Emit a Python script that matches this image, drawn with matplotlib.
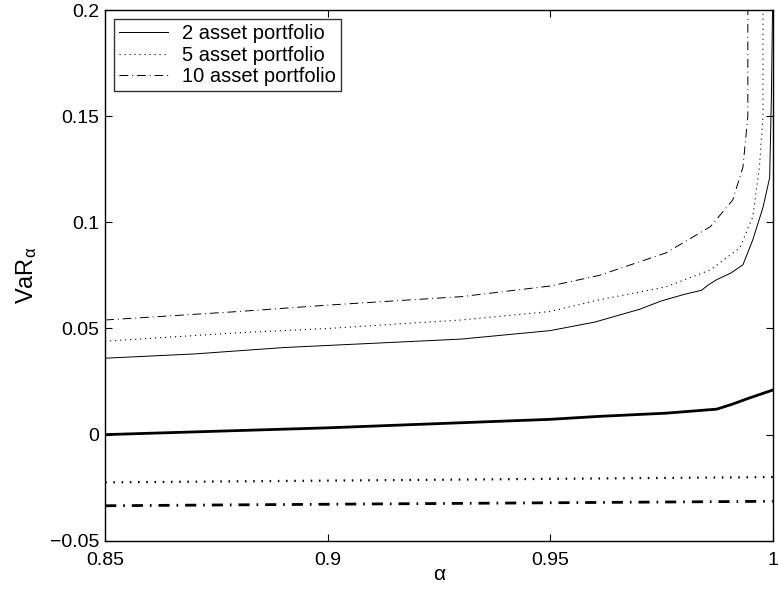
import matplotlib.pyplot as plt

plt.rcParams['font.family'] = ['Liberation Sans', 'DejaVu Sans']
plt.rcParams['mathtext.fontset'] = 'custom'
plt.rcParams['mathtext.rm'] = 'Liberation Sans'
plt.rcParams['mathtext.it'] = 'Liberation Sans'

# VaR curves for the upper (portfolio) set
alpha_2 = [0.85, 0.87, 0.89, 0.91, 0.93, 0.95, 0.96, 0.97, 0.975, 0.98, 0.984,
           0.9855, 0.9874, 0.9905, 0.9933, 0.9955, 0.9978, 0.9993, 0.9997, 1.0]
var_2 = [0.036, 0.038, 0.041, 0.043, 0.045, 0.049, 0.053, 0.059, 0.063, 0.066,
         0.068, 0.0705, 0.073, 0.076, 0.080, 0.0917, 0.107, 0.121, 0.16, 0.21]

alpha_5 = [0.85, 0.88, 0.9, 0.93, 0.95, 0.961, 0.976, 0.986, 0.9926, 0.9955,
           0.997, 0.9978, 0.9978]
var_5 = [0.044, 0.048, 0.050, 0.054, 0.058, 0.0635, 0.0696, 0.0776, 0.088,
         0.1025, 0.126, 0.15, 0.21]

alpha_10 = [0.85, 0.88, 0.9, 0.93, 0.95, 0.961, 0.976, 0.986, 0.991, 0.9933,
            0.9944, 0.9944]
var_10 = [0.054, 0.058, 0.061, 0.065, 0.070, 0.075, 0.0856, 0.098, 0.1105,
          0.126, 0.15, 0.21]

# lower set of curves
alpha_low = [0.85, 0.9, 0.95, 0.961, 0.976, 0.9874, 0.991, 0.9948, 1.0]
low_solid = [0.0, 0.0032, 0.0072, 0.0086, 0.0101, 0.012, 0.0144, 0.0173, 0.021]
alpha_flat = [0.85, 1.0]
low_dot = [-0.0225, -0.020]
low_dashdot = [-0.0335, -0.0314]

fig = plt.figure(figsize=(7.79, 5.91), dpi=100)
ax = fig.add_axes([0.135, 0.085, 0.857, 0.898])

ax.plot(alpha_2, var_2, color='black', linewidth=0.7, label='2 asset portfolio')
ax.plot(alpha_5, var_5, color='black', linewidth=0.8, dashes=(1, 3.5),
        label='5 asset portfolio')
ax.plot(alpha_10, var_10, color='black', linewidth=0.7, dashes=(9, 4, 1, 4),
        label='10 asset portfolio')

ax.plot(alpha_low, low_solid, color='black', linewidth=2.0)
ax.plot(alpha_flat, low_dot, color='black', linewidth=1.6, dashes=(0.7, 3))
ax.plot(alpha_flat, low_dashdot, color='black', linewidth=2.0, dashes=(4, 2.5, 0.6, 2.5))

ax.set_xlim(0.85, 1.0)
ax.set_ylim(-0.05, 0.2)
ax.set_xticks([0.85, 0.9, 0.95, 1.0])
ax.set_xticklabels(['0.85', '0.9', '0.95', '1'])
ax.set_yticks([-0.05, 0, 0.05, 0.1, 0.15, 0.2])
ax.set_yticklabels(['\u22120.05', '0', '0.05', '0.1', '0.15', '0.2'])
ax.tick_params(direction='in', top=True, right=True, length=5, width=0.8,
               labelsize=14)
ax.tick_params(axis='x', pad=8)
ax.tick_params(axis='y', pad=4)
for s in ax.spines.values():
    s.set_linewidth(1.0)

ax.set_xlabel('\u03b1', fontsize=15, labelpad=-3)
ax.set_ylabel('VaR$_{\\alpha}$', fontsize=17, labelpad=8)

leg = ax.legend(loc='upper left', fontsize=14.5, frameon=True, fancybox=False,
                edgecolor='black', handlelength=2.4, handletextpad=0.7,
                borderaxespad=0.45, labelspacing=0.12, borderpad=0.25)
leg.get_frame().set_linewidth(1.0)

fig.savefig('out.png', dpi=100)
